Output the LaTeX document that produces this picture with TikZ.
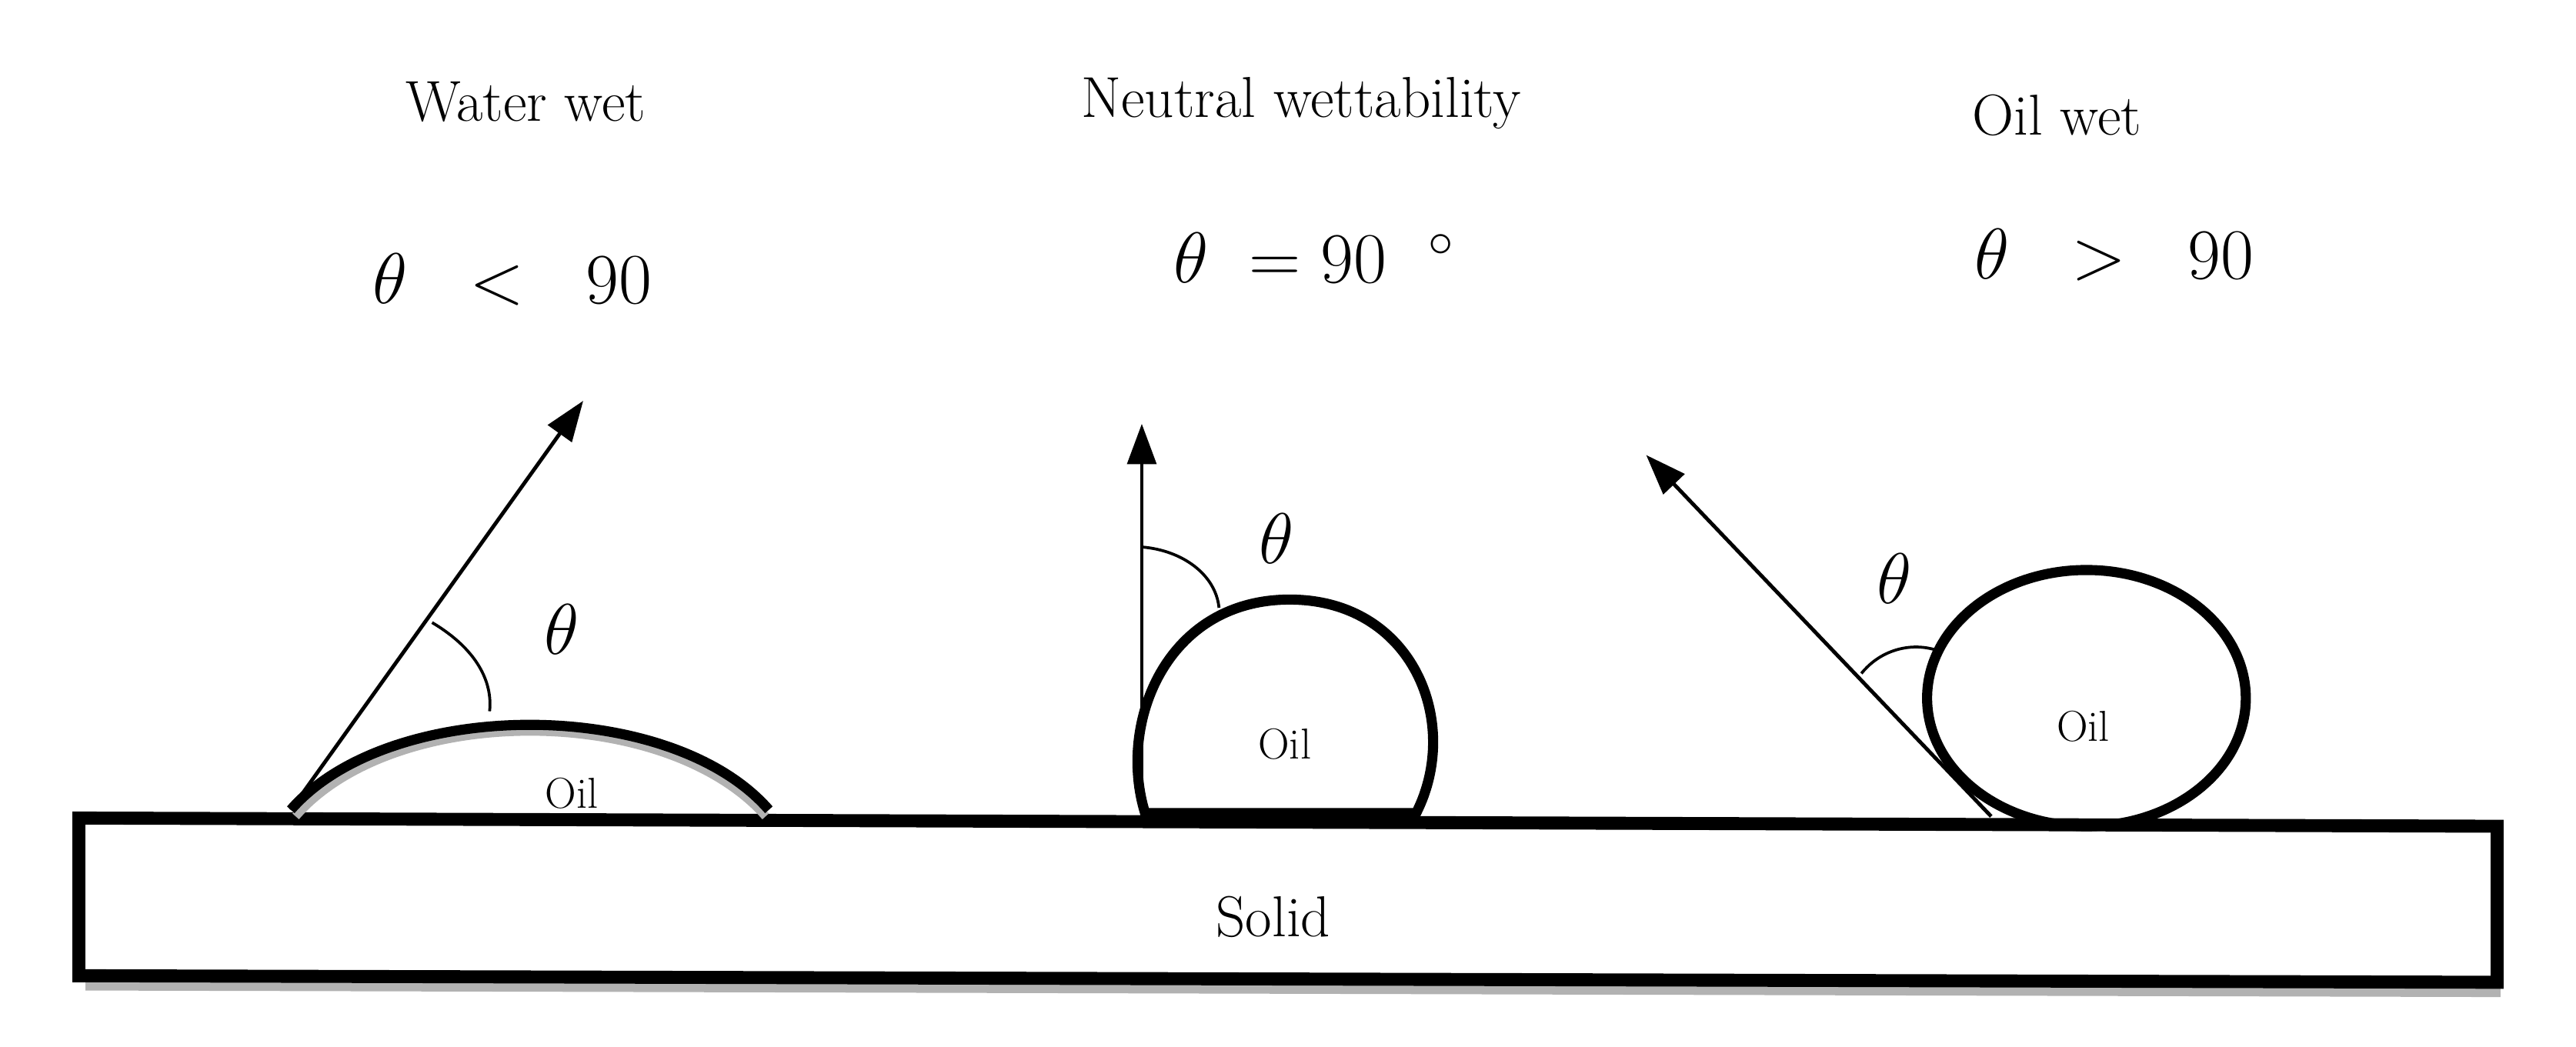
\documentclass[tikz,border=0pt]{standalone}
\usetikzlibrary{arrows.meta}
\begin{document}
\begin{tikzpicture}[x=0.02cm,y=-0.02cm,
  thick line/.style={line width=4.5pt},
  arr/.style={line width=1.3pt,-{Triangle[length=14pt,width=10pt]}},
  ang/.style={line width=1pt},
  ttl/.style={font=\fontsize{20}{24}\selectfont},
  th/.style={font=\fontsize{24}{28}\selectfont},
  oil/.style={font=\fontsize{15}{18}\selectfont}]
\useasboundingbox (0,0) rectangle (1568,637);
% solid
\fill[gray!60] (52,596) -- (1522,601) -- (1522,607) -- (52,603) -- cycle;
\draw[thick line] (48,498) -- (1520,503) -- (1520,598) -- (48,594) -- cycle;
\node[ttl] (solid) at (775,558) {Solid};
% titles
\node[ttl] (t1) at (320,62) {Water wet};
\node[th] (a1) at (312,170) {$\theta\ \ <\ \ 90$};
\node[ttl] (t2) at (792,63) {Neutral wettability};
\node[th] (a2) at (800,157) {$\theta\ =90\ \ ^\circ$};
\node[ttl] (t3) at (1252,70) {Oil wet};
\node[th] (a3) at (1287,155) {$\theta\ \ >\ \ 90$};
% water wet
\coordinate (w0) at (177,493);
\coordinate (w1) at (355,244);
\draw[gray!60,line width=3pt] (180,497) .. controls (240,428) and (405,428) .. (466,497);
\draw[line width=3.5pt] (177,493) .. controls (237,424) and (408,424) .. (468,493);
\draw[arr] (w0) -- (w1);
\draw[ang] (263,379) .. controls (290,395) and (300,415) .. (298,433);
\node[th] (th1) at (342,383) {$\theta$};
\node[oil] (o1) at (348,483) {Oil};
% neutral
\coordinate (n0) at (695,495);
\coordinate (n1) at (695,258);
\draw[line width=3.5pt] (697,495) .. controls (680,440) and (710,365) .. (785,365) .. controls (860,365) and (890,440) .. (862,495) -- cycle;
\draw[arr] (n0) -- (n1);
\draw[ang] (695,333) .. controls (720,335) and (740,350) .. (742,370);
\node[th] (th2) at (777,328) {$\theta$};
\node[oil] (o2) at (782,453) {Oil};
% oil wet
\coordinate (e0) at (1212,497);
\coordinate (e1) at (1002,277);
\draw[line width=3.5pt] (1270,425) ellipse [x radius=97, y radius=78];
\draw[arr] (e0) -- (e1);
\draw[ang] (1133,410) .. controls (1145,395) and (1165,390) .. (1182,397);
\node[th] (th3) at (1153,352) {$\theta$};
\node[oil] (o3) at (1268,442) {Oil};
\end{tikzpicture}
\end{document}
